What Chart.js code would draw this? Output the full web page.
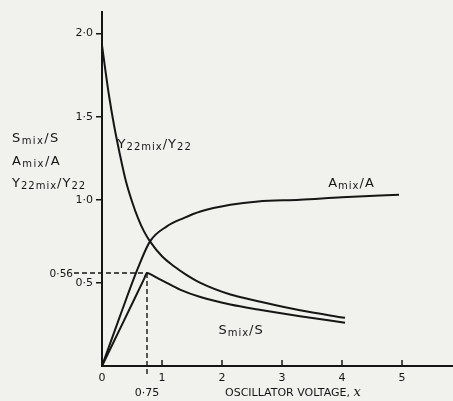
<!DOCTYPE html>
<html>
<head>
<meta charset="utf-8">
<script src="https://cdn.jsdelivr.net/npm/chart.js@4/dist/chart.umd.min.js"></script>
<style>
  html, body { margin: 0; padding: 0; background: #f1f1ee; }
  #wrap { width: 453px; height: 401px; }
</style>
</head>
<body>
<div id="wrap"><canvas id="chart" width="453" height="401"></canvas></div>
<script>
// axis ticks
const xTicks = [0, 1, 2, 3, 4, 5];
const yTicks = [0.5, 1.0, 1.5, 2.0];

// Y22mix / Y22
const y22X = [0, 0.06, 0.12, 0.2, 0.3, 0.4, 0.5, 0.6, 0.7, 0.8, 1.0, 1.2, 1.4, 1.64, 2.14, 2.6, 3.3, 4.05];
const y22Vals = [1.93, 1.77, 1.62, 1.45, 1.27, 1.11, 0.99, 0.89, 0.81, 0.75, 0.66, 0.6, 0.55, 0.5, 0.43, 0.39, 0.335, 0.29];

// Smix / S
const sX = [0, 0.35, 0.7, 0.75, 0.82, 0.92, 1.08, 1.3, 1.64, 2.14, 2.6, 3.3, 4.05];
const sVals = [0, 0.261, 0.523, 0.56, 0.55, 0.53, 0.5, 0.46, 0.415, 0.37, 0.34, 0.3, 0.26];

// Amix / A
const aX = [0, 0.3, 0.6, 0.8, 1.08, 1.36, 1.64, 2.14, 2.6, 3.3, 4.0, 4.95];
const aVals = [0, 0.3, 0.59, 0.75, 0.84, 0.89, 0.93, 0.97, 0.99, 1.0, 1.015, 1.03];

// marked optimum point
const peakX = 0.75;
const peakY = 0.56;

const INK = "#161616";
const FONT = '"DejaVu Sans", sans-serif';

function pts(xs, ys) {
  return xs.map((x, i) => ({ x, y: ys[i] }));
}
function fmtDot(v) {
  return String(v).replace(".", "\u00b7");
}

function curve(xs, ys) {
  return {
    data: pts(xs, ys),
    borderColor: INK,
    borderWidth: 2,
    pointRadius: 0,
    cubicInterpolationMode: "monotone",
    fill: false,
  };
}

// text with smaller, lowered "mix" / "22" parts
function drawSub(ctx, parts, x, y, size) {
  let cx = x;
  for (const [txt, small] of parts) {
    ctx.font = (small ? size - 3 : size) + "px " + FONT;
    ctx.fillText(txt, cx, small ? y + 2 : y);
    cx += ctx.measureText(txt).width;
  }
}

const annotations = {
  id: "annotations",
  afterDatasetsDraw(chart) {
    const { ctx, scales: { x, y } } = chart;
    const y0 = y.getPixelForValue(0);
    ctx.save();
    ctx.strokeStyle = INK;
    ctx.fillStyle = INK;

    // x tick marks point up into the plot
    ctx.lineWidth = 1.5;
    for (const v of xTicks.slice(1)) {
      const px = x.getPixelForValue(v);
      ctx.beginPath();
      ctx.moveTo(px, y0);
      ctx.lineTo(px, y0 - 6);
      ctx.stroke();
    }

    // dashed guides to the peak
    const px = x.getPixelForValue(peakX);
    const py = y.getPixelForValue(peakY);
    ctx.setLineDash([5, 3]);
    ctx.lineWidth = 1.4;
    ctx.beginPath();
    ctx.moveTo(74, py);
    ctx.lineTo(px, py);
    ctx.moveTo(px, py);
    ctx.lineTo(px, y0 + 9);
    ctx.stroke();
    ctx.setLineDash([]);

    ctx.textBaseline = "alphabetic";
    ctx.font = "10.5px " + FONT;
    ctx.textAlign = "right";
    ctx.fillText(fmtDot(peakY), 73, py + 4);
    ctx.textAlign = "center";
    ctx.font = "11px " + FONT;
    ctx.fillText(fmtDot(peakX), px, y0 + 30);

    // x axis title
    ctx.textAlign = "left";
    ctx.font = "11px " + FONT;
    const title = "OSCILLATOR VOLTAGE, ";
    ctx.fillText(title, 225, y0 + 30);
    const tw = ctx.measureText(title).width;
    ctx.font = "italic 13px \"DejaVu Serif\", serif";
    ctx.fillText("x", 225 + tw, y0 + 30);

    // y axis title block
    ctx.letterSpacing = "1.4px";
    drawSub(ctx, [["S", false], ["mix", true], ["/S", false]], 12, 142, 13);
    drawSub(ctx, [["A", false], ["mix", true], ["/A", false]], 12, 165, 13);
    ctx.letterSpacing = "1px";
    drawSub(ctx, [["Y", false], ["22mix", true], ["/Y", false], ["22", true]], 12, 187, 13);

    // curve labels
    drawSub(ctx, [["Y", false], ["22mix", true], ["/Y", false], ["22", true]],
      x.getPixelForValue(0.26), y.getPixelForValue(1.31), 13);
    drawSub(ctx, [["A", false], ["mix", true], ["/A", false]],
      x.getPixelForValue(3.77), y.getPixelForValue(1.08), 13);
    drawSub(ctx, [["S", false], ["mix", true], ["/S", false]],
      x.getPixelForValue(1.94), y.getPixelForValue(0.19), 13);
    ctx.restore();
  },
};

new Chart(document.getElementById("chart"), {
  type: "line",
  data: {
    datasets: [curve(y22X, y22Vals), curve(sX, sVals), curve(aX, aVals)],
  },
  options: {
    responsive: false,
    animation: false,
    layout: { padding: { top: 12, right: 0, left: 0, bottom: 0 } },
    plugins: { legend: { display: false }, tooltip: { enabled: false } },
    scales: {
      x: {
        type: "linear",
        min: 0,
        max: 5.85,
        afterBuildTicks: (s) => { s.ticks = xTicks.map((v) => ({ value: v })); },
        afterFit: (s) => { s.height = 35; },
        grid: { drawOnChartArea: false, drawTicks: false },
        border: { color: INK, width: 2 },
        ticks: {
          color: INK,
          padding: 6,
          maxRotation: 0,
          autoSkip: false,
          font: { family: FONT, size: 11 },
          callback: (v) => String(v),
        },
      },
      y: {
        type: "linear",
        min: 0,
        max: 2.13,
        afterBuildTicks: (s) => { s.ticks = yTicks.map((v) => ({ value: v })); },
        afterFit: (s) => { s.width = 102; },
        grid: { drawOnChartArea: false, drawTicks: true, tickLength: 6, color: INK, lineWidth: 1.5 },
        border: { color: INK, width: 2 },
        ticks: {
          color: INK,
          padding: 3,
          autoSkip: false,
          font: { family: FONT, size: 11 },
          callback: (v) => Number(v).toFixed(1).replace(".", "\u00b7"),
        },
      },
    },
  },
  plugins: [annotations],
});
</script>
</body>
</html>
